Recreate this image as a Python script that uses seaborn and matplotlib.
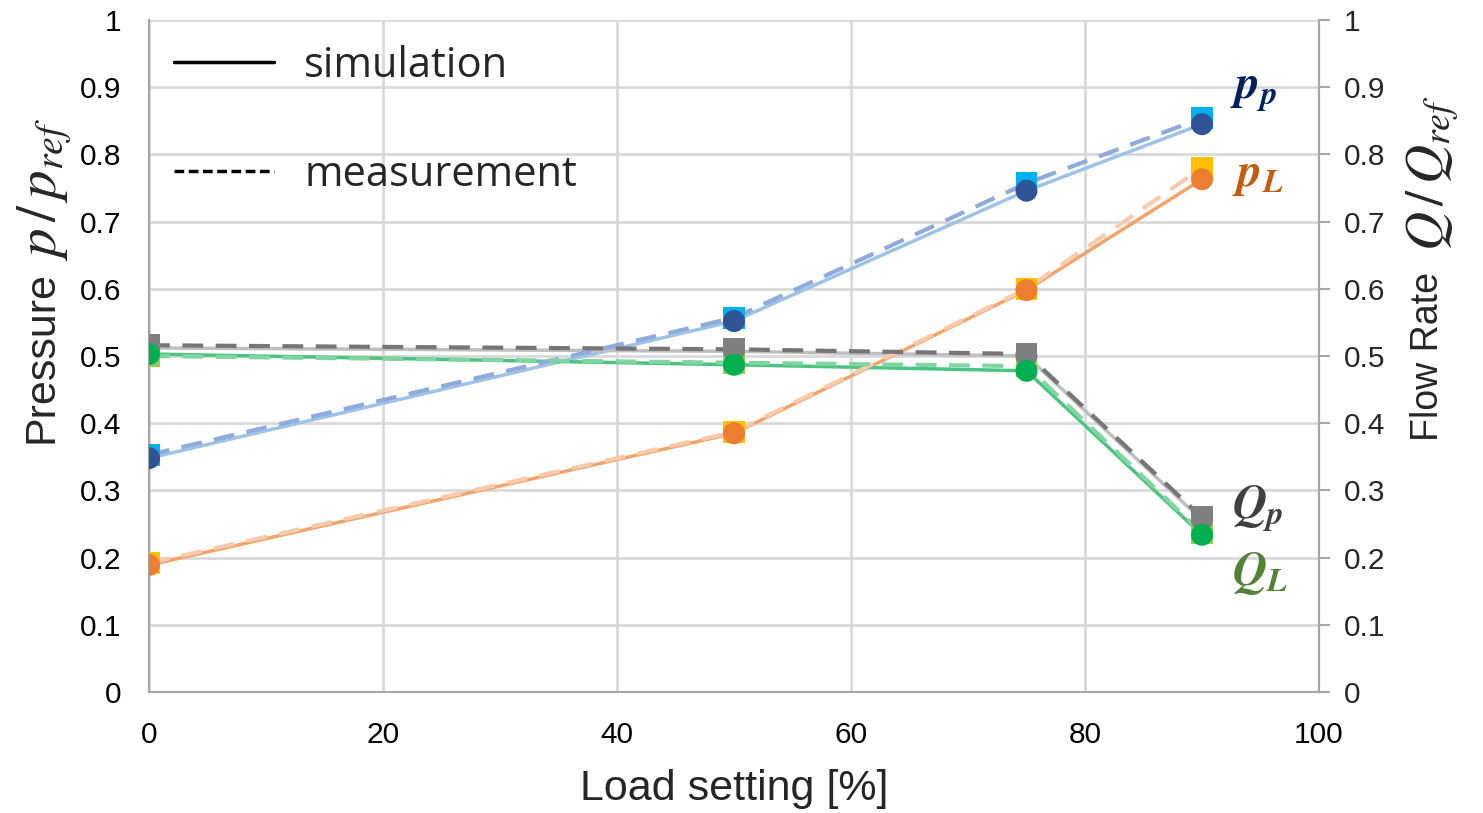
import matplotlib
matplotlib.use("Agg")
import matplotlib.pyplot as plt
from matplotlib.lines import Line2D
from matplotlib.ticker import FuncFormatter, MultipleLocator
import seaborn as sns
import pandas as pd

# load settings [%]
load = [0, 50, 75, 90]

# simulation (circles) and measurement (squares), normalised values
pp_sim = [0.348, 0.552, 0.746, 0.845]
pp_meas = [0.353, 0.557, 0.757, 0.854]
pL_sim = [0.189, 0.385, 0.598, 0.763]
pL_meas = [0.192, 0.387, 0.600, 0.780]
Qp_sim = [0.512, 0.507, 0.500, 0.256]
Qp_meas = [0.516, 0.510, 0.503, 0.260]
QL_sim = [0.503, 0.487, 0.478, 0.234]
QL_meas = [0.500, 0.490, 0.485, 0.237]

series_names = ["pp", "pL", "Qp", "QL"]
series_labels = [r"$\mathbfit{p}_{\mathbfit{p}}$", r"$\mathbfit{p}_{\mathbfit{L}}$",
                 r"$\mathbfit{Q}_{\mathbfit{p}}$", r"$\mathbfit{Q}_{\mathbfit{L}}$"]
label_pos = [(92.4, 0.893), (92.6, 0.768), (92.6, 0.273), (92.6, 0.177)]

sim = {"pp": pp_sim, "pL": pL_sim, "Qp": Qp_sim, "QL": QL_sim}
meas = {"pp": pp_meas, "pL": pL_meas, "Qp": Qp_meas, "QL": QL_meas}

line_sim_col = {"pp": "#9DC3E6", "pL": "#F4A36C", "Qp": "#BFBFBF", "QL": "#4CC481"}
line_meas_col = {"pp": "#8FAADC", "pL": "#F8CBAD", "Qp": "#767676", "QL": "#7FD6A0"}
mark_sim_col = {"pp": "#2F5597", "pL": "#ED7D31", "Qp": "#7F7F7F", "QL": "#00B050"}
mark_meas_col = {"pp": "#00B0F0", "pL": "#FFC000", "Qp": "#7F7F7F", "QL": "#92D050"}
text_col = {"pp": "#002060", "pL": "#C55A11", "Qp": "#404040", "QL": "#538135"}

sns.set_style("white")
plt.rcParams["font.family"] = ["Liberation Sans", "DejaVu Sans"]
plt.rcParams["mathtext.fontset"] = "stix"

fig = plt.figure(figsize=(14.83, 8.13), dpi=100)
ax = fig.add_axes([0.1005, 0.1488, 0.7889, 0.8266])

rows = []
for name in series_names:
    for x, y in zip(load, sim[name]):
        rows.append({"load": x, "value": y, "series": name, "kind": "sim"})
    for x, y in zip(load, meas[name]):
        rows.append({"load": x, "value": y, "series": name, "kind": "meas"})
df = pd.DataFrame(rows)

for name in series_names:
    d = df[(df.series == name) & (df.kind == "meas")]
    sns.lineplot(data=d, x="load", y="value", ax=ax, color=line_meas_col[name],
                 linewidth=3, linestyle=(0, (5, 3)), zorder=3)
    d = df[(df.series == name) & (df.kind == "sim")]
    sns.lineplot(data=d, x="load", y="value", ax=ax, color=line_sim_col[name],
                 linewidth=2.5, zorder=2)

for name in series_names:
    d = df[(df.series == name) & (df.kind == "meas")]
    sns.scatterplot(data=d, x="load", y="value", ax=ax, marker="s", s=250,
                    color=mark_meas_col[name], edgecolor="none", zorder=4)
for name in series_names:
    d = df[(df.series == name) & (df.kind == "sim")]
    sns.scatterplot(data=d, x="load", y="value", ax=ax, marker="o", s=250,
                    color=mark_sim_col[name], edgecolor="none", zorder=5)

for name, lab, (tx, ty) in zip(series_names, series_labels, label_pos):
    ax.text(tx, ty, lab, color=text_col[name], fontsize=34, va="center", ha="left")

ax.set_xlim(0, 100)
ax.set_ylim(0, 1)
ax.xaxis.set_major_locator(MultipleLocator(20))
ax.yaxis.set_major_locator(MultipleLocator(0.1))
fmt = FuncFormatter(lambda v, p: f"{v:g}")
ax.yaxis.set_major_formatter(fmt)
ax.grid(True, color="#D9D9D9", linewidth=2)
ax.set_axisbelow(True)
ax.spines["top"].set_visible(False)
for s in ["left", "right", "bottom"]:
    ax.spines[s].set_color("#A6A6A6")
    ax.spines[s].set_linewidth(1.5)
ax.tick_params(axis="both", length=0, labelsize=21.5, colors="black")
ax.tick_params(axis="x", pad=21)
ax.tick_params(axis="y", pad=20)
ax.set_xlabel("Load setting [%]", fontsize=31, labelpad=14)
ax.set_ylabel("")

# y labels: plain word plus a larger math part
fig.text(0.0283, 0.561, "Pressure", rotation=90, fontsize=31, ha="center", va="center")
fig.text(0.0300, 0.767, r"$p\,/\,p_{ref}$", rotation=90, fontsize=41, ha="center", va="center")

ax2 = ax.twinx()
ax2.set_ylim(0, 1)
ax2.yaxis.set_major_locator(MultipleLocator(0.1))
ax2.yaxis.set_major_formatter(fmt)
ax2.tick_params(axis="y", length=8, width=1.5, color="#A6A6A6", labelsize=21.5, pad=10)
for s in ["top", "left", "bottom"]:
    ax2.spines[s].set_visible(False)
ax2.spines["right"].set_color("#A6A6A6")
ax2.spines["right"].set_linewidth(1.5)
fig.text(0.9629, 0.562, "Flow Rate", rotation=90, fontsize=27, ha="center", va="center")
fig.text(0.9660, 0.787, r"$Q\,/\,Q_{ref}$", rotation=90, fontsize=39, ha="center", va="center")

handles = [Line2D([], [], color="black", linewidth=2.5),
           Line2D([], [], color="black", linewidth=2.5, linestyle=(0, (2.8, 1.3)))]
ax.legend(handles, ["simulation", "measurement"], loc="upper left",
          frameon=False, handlelength=2.4, handletextpad=0.72,
          labelspacing=1.6, borderaxespad=0.2, prop={"family": "Open Sans", "size": 30})

fig.savefig("out.png", dpi=100)
